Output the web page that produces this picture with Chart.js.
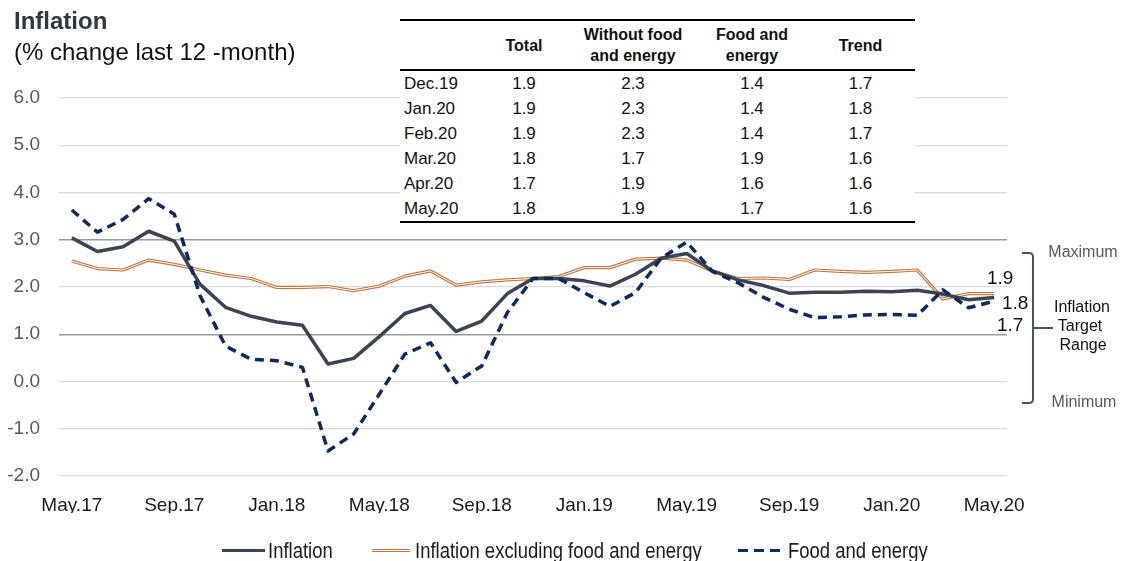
<!DOCTYPE html>
<html>
<head>
<meta charset="utf-8">
<script src="https://cdn.jsdelivr.net/npm/chart.js@4.4.1/dist/chart.umd.min.js"></script>
<style>
  html, body { margin: 0; padding: 0; background: #fff; }
  #wrap { position: relative; width: 1122px; height: 561px; overflow: hidden; font-family: "Liberation Sans", Arial, sans-serif; }
  #chart { position: absolute; left: 0; top: 0; }
  .title { position: absolute; left: 14px; top: 7px; font-weight: bold; font-size: 24px; color: #2e3744; }
  .subtitle { position: absolute; left: 14px; top: 38px; font-size: 24px; color: #111; }
  #tbl { position: absolute; left: 400px; top: 19px; width: 515px; background: #fff; border-collapse: collapse; table-layout: fixed; color: #111; }
  #tbl th { font-size: 16px; font-weight: bold; line-height: 21px; height: 48px; padding: 0; text-align: center; vertical-align: middle; border-top: 2px solid #000; border-bottom: 2px solid #000; }
  #tbl td { font-size: 17px; height: 25px; padding: 0; text-align: center; line-height: 25px; }
  #tbl td.m { text-align: left; padding-left: 4px; }
  #tbl tr:last-child td { border-bottom: 2px solid #000; }
  .leg { position: absolute; top: 538px; font-size: 22px; line-height: 25px; color: #1a1a1a; white-space: nowrap; transform: scaleX(0.84); transform-origin: 0 50%; }
  .sw { position: absolute; }
</style>
</head>
<body>
<div id="wrap">
  <canvas id="chart" width="1122" height="561"></canvas>
  <div class="title">Inflation</div>
  <div class="subtitle">(% change last 12 -month)</div>
  <table id="tbl">
    <colgroup><col style="width:80px"><col style="width:88px"><col style="width:130px"><col style="width:108px"><col style="width:109px"></colgroup>
    <thead><tr id="head"></tr></thead>
    <tbody id="body"></tbody>
  </table>
  <div class="sw" style="left:222px; top:549px; width:43px; height:3px; background:#3b4453;"></div>
  <div class="leg" style="left:268px;">Inflation</div>
  <div class="sw" style="left:372px; top:549px; width:38px; height:1px; border-top:1px solid #c5733c; border-bottom:1px solid #c5733c;"></div>
  <div class="leg" style="left:415px;">Inflation excluding food and energy</div>
  <div class="sw" style="left:738px; top:549px; width:44px; height:3px; background:repeating-linear-gradient(to right, #0c2a5f 0 10px, transparent 10px 16px);"></div>
  <div class="leg" style="left:788px;">Food and energy</div>
</div>
<script>
const FONT = '"Liberation Sans", Arial, sans-serif';

// monthly, May.17 .. May.20
const months = [
  "May.17", "Jun.17", "Jul.17", "Aug.17", "Sep.17", "Oct.17", "Nov.17", "Dec.17",
  "Jan.18", "Feb.18", "Mar.18", "Apr.18", "May.18", "Jun.18", "Jul.18", "Aug.18",
  "Sep.18", "Oct.18", "Nov.18", "Dec.18", "Jan.19", "Feb.19", "Mar.19", "Apr.19",
  "May.19", "Jun.19", "Jul.19", "Aug.19", "Sep.19", "Oct.19", "Nov.19", "Dec.19",
  "Jan.20", "Feb.20", "Mar.20", "Apr.20", "May.20"
];

const inflation = [
  3.04, 2.75, 2.85, 3.18, 2.97, 2.06, 1.57, 1.38, 1.26, 1.19, 0.37, 0.49,
  0.95, 1.44, 1.61, 1.06, 1.28, 1.86, 2.18, 2.18, 2.13, 2.02, 2.27, 2.61,
  2.71, 2.34, 2.15, 2.03, 1.87, 1.89, 1.89, 1.91, 1.90, 1.93, 1.85, 1.73, 1.78
];

const coreInflation = [
  2.55, 2.39, 2.36, 2.57, 2.48, 2.36, 2.25, 2.18, 1.99, 1.99, 2.01, 1.92,
  2.02, 2.23, 2.34, 2.04, 2.11, 2.15, 2.18, 2.22, 2.41, 2.41, 2.59, 2.61,
  2.57, 2.34, 2.18, 2.19, 2.16, 2.36, 2.33, 2.31, 2.33, 2.36, 1.75, 1.86, 1.86
];

const foodEnergy = [
  3.63, 3.16, 3.43, 3.87, 3.54, 1.82, 0.75, 0.47, 0.44, 0.30, -1.47, -1.11,
  -0.27, 0.58, 0.82, -0.02, 0.33, 1.46, 2.18, 2.18, 1.88, 1.59, 1.88, 2.61,
  2.95, 2.33, 2.09, 1.78, 1.53, 1.35, 1.37, 1.41, 1.42, 1.40, 1.94, 1.56, 1.70
];

const xTickEvery = 4;

// table
const tableHeaders = ["", "Total", "Without food<br>and energy", "Food and<br>energy", "Trend"];
const tableMonths = ["Dec.19", "Jan.20", "Feb.20", "Mar.20", "Apr.20", "May.20"];
const tableTotal = [1.9, 1.9, 1.9, 1.8, 1.7, 1.8];
const tableCore = [2.3, 2.3, 2.3, 1.7, 1.9, 1.9];
const tableFood = [1.4, 1.4, 1.4, 1.9, 1.6, 1.7];
const tableTrend = [1.7, 1.8, 1.7, 1.6, 1.6, 1.6];

// ---------- table ----------
document.getElementById("head").innerHTML = tableHeaders.map(h => `<th>${h}</th>`).join("");
document.getElementById("body").innerHTML = tableMonths.map((m, i) =>
  `<tr><td class="m">${m}</td><td>${tableTotal[i].toFixed(1)}</td><td>${tableCore[i].toFixed(1)}</td>` +
  `<td>${tableFood[i].toFixed(1)}</td><td>${tableTrend[i].toFixed(1)}</td></tr>`
).join("");

// ---------- annotations: end labels + target range bracket ----------
const annotations = {
  id: "annotations",
  afterDatasetsDraw(chart) {
    const ctx = chart.ctx;
    const last = months.length - 1;
    const endLabel = (dsIndex, dx, dy) => {
      const pt = chart.getDatasetMeta(dsIndex).data[last];
      const v = chart.data.datasets[dsIndex].data[last];
      ctx.fillText(v.toFixed(1), pt.x + dx, pt.y + dy);
    };
    ctx.save();
    ctx.font = "19px " + FONT;
    ctx.fillStyle = "#111";
    ctx.textAlign = "center";
    ctx.textBaseline = "middle";
    endLabel(3, 6, -15);   // core
    endLabel(1, 21, 6);    // inflation
    endLabel(0, 16, 25);   // food and energy

    // bracket
    ctx.strokeStyle = "#44546a";
    ctx.lineWidth = 2;
    ctx.beginPath();
    ctx.moveTo(1022, 253);
    ctx.lineTo(1029, 253);
    ctx.quadraticCurveTo(1033, 253, 1033, 257);
    ctx.lineTo(1033, 399);
    ctx.quadraticCurveTo(1033, 403, 1029, 403);
    ctx.lineTo(1022, 403);
    ctx.moveTo(1033, 328);
    ctx.lineTo(1053, 328);
    ctx.stroke();

    ctx.font = "16px " + FONT;
    ctx.fillStyle = "#595959";
    ctx.fillText("Maximum", 1083, 253);
    ctx.fillText("Minimum", 1084, 403);
    ctx.fillStyle = "#111";
    ctx.fillText("Inflation", 1082, 308);
    ctx.fillText("Target", 1080, 327);
    ctx.fillText("Range", 1083, 346);
    ctx.restore();
  }
};

new Chart(document.getElementById("chart"), {
  type: "line",
  data: {
    labels: months,
    datasets: [
      {
        label: "Food and energy",
        data: foodEnergy,
        borderColor: "#0c2a5f",
        borderWidth: 3.5,
        borderDash: [9, 6],
        order: 0,
      },
      {
        label: "Inflation",
        data: inflation,
        borderColor: "#3b4453",
        borderWidth: 3.5,
        order: 1,
      },
      {
        label: "core-inner",
        data: coreInflation,
        borderColor: "#ffffff",
        borderWidth: 1,
        order: 2,
      },
      {
        label: "Inflation excluding food and energy",
        data: coreInflation,
        borderColor: "#c5733c",
        borderWidth: 3.2,
        order: 3,
      },
    ],
  },
  options: {
    responsive: false,
    animation: false,
    elements: {
      point: { radius: 0, hoverRadius: 0 },
      line: { tension: 0, borderCapStyle: "butt", borderJoinStyle: "round" },
    },
    layout: { padding: { left: 0, right: 115, top: 98, bottom: 48 } },
    plugins: {
      legend: { display: false },
      tooltip: { enabled: false },
    },
    scales: {
      x: {
        offset: true,
        grid: { display: false },
        border: { display: false },
        ticks: {
          autoSkip: false,
          maxRotation: 0,
          padding: 10,
          color: "#1a1a1a",
          font: { size: 19, family: FONT },
          callback: (v, i) => (i % xTickEvery === 0 ? months[i] : ""),
        },
        afterFit: (s) => { s.height = 37; },
      },
      y: {
        min: -2,
        max: 6,
        ticks: {
          stepSize: 1,
          padding: 19,
          color: "#595959",
          font: { size: 19, family: FONT },
          callback: (v) => v.toFixed(1),
        },
        grid: {
          drawTicks: false,
          color: (c) => (c.tick.value === 3 || c.tick.value === 1 ? "#9a9a9a" : "#d9d9d9"),
          lineWidth: (c) => (c.tick.value === 3 || c.tick.value === 1 ? 1.5 : 1.2),
        },
        border: { display: false },
        afterFit: (s) => { s.width = 59; },
      },
    },
  },
  plugins: [annotations],
});
</script>
</body>
</html>
